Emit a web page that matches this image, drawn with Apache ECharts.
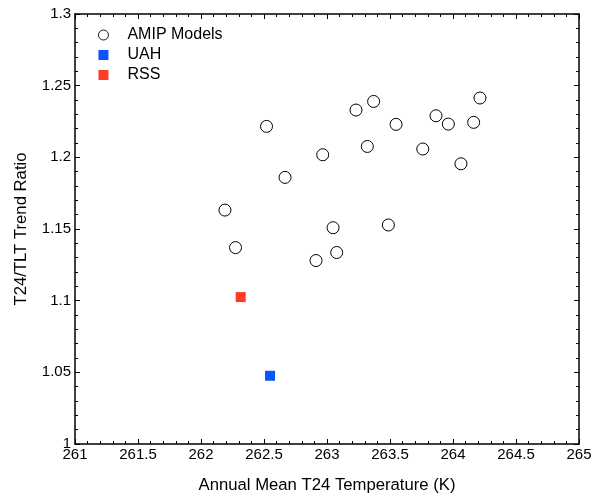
<!DOCTYPE html>
<html>
<head>
<meta charset="utf-8">
<script src="https://cdn.jsdelivr.net/npm/echarts@6/dist/echarts.min.js"></script>
<style>
  html, body { margin: 0; padding: 0; background: #fff; }
  #chart { width: 602px; height: 497px; }
</style>
</head>
<body>
<div id="chart"></div>
<script>
// 数据
const amipX = [262.52, 262.667, 262.19, 262.274, 262.966, 263.23, 263.37, 263.548, 263.32, 263.76,
               263.865, 263.963, 264.063, 264.164, 264.214, 263.048, 263.487, 262.913, 263.077];
const amipY = [1.2216, 1.186, 1.1632, 1.137, 1.2018, 1.233, 1.239, 1.223, 1.2076, 1.2058,
               1.229, 1.2232, 1.1955, 1.2244, 1.2414, 1.1509, 1.1528, 1.128, 1.1336];
const uah = [262.548, 1.0476];
const rss = [262.315, 1.1025];

(function () {
    let myChart = echarts.init(document.getElementById("chart"));
    const font = "Liberation Sans";
    const lineStyle = { color: "#000", width: 1.5 };

    // 坐标轴公共样式
    function axisBase(extra) {
        return Object.assign({
            type: "value",
            axisLine: { show: true, onZero: false, lineStyle: lineStyle },
            axisTick: { show: true, inside: true, length: 5, lineStyle: { color: "#000", width: 1 } },
            minorTick: { show: true, splitNumber: 5, length: 3, lineStyle: { color: "#000", width: 1 } },
            splitLine: { show: false },
            axisLabel: { color: "#000", fontFamily: font, fontSize: 15 }
        }, extra);
    }

    let option = {
        animation: false,
        grid: { left: 75, right: 23, top: 14, bottom: 53, outerBoundsMode: "none" },
        legend: {
            orient: "vertical",
            left: 93,
            top: 22,
            itemWidth: 10,
            itemHeight: 10,
            itemGap: 4,
            textStyle: { color: "#000", fontFamily: font, fontSize: 16, lineHeight: 16, padding: [0, 0, 0, 14] },
            data: [
                { name: "AMIP Models", itemStyle: { borderWidth: 0.9 } },
                "UAH",
                "RSS"
            ]
        },
        xAxis: [
            axisBase({
                min: 261, max: 265, interval: 0.5,
                name: "Annual Mean T24 Temperature (K)",
                nameLocation: "middle",
                nameGap: 33,
                nameTextStyle: { color: "#000", fontFamily: font, fontSize: 16.7 },
                axisLabel: { color: "#000", fontFamily: font, fontSize: 15, margin: 3 }
            }),
            axisBase({
                min: 261, max: 265, interval: 0.5, position: "top",
                axisLabel: { show: false }
            })
        ],
        yAxis: [
            axisBase({
                min: 1, max: 1.3, interval: 0.05,
                name: "T24/TLT Trend Ratio",
                nameLocation: "middle",
                nameGap: 45,
                nameTextStyle: { color: "#000", fontFamily: font, fontSize: 16.7 },
                axisLabel: { color: "#000", fontFamily: font, fontSize: 15, margin: 4 }
            }),
            axisBase({
                min: 1, max: 1.3, interval: 0.05, position: "right",
                axisLabel: { show: false }
            })
        ],
        series: [
            {
                name: "AMIP Models",
                type: "scatter",
                symbol: "circle",
                symbolSize: 12,
                itemStyle: { color: "#fff", borderColor: "#000", borderWidth: 1, opacity: 1 },
                data: amipX.map((x, i) => [x, amipY[i]])
            },
            {
                name: "UAH",
                type: "scatter",
                symbol: "rect",
                symbolSize: 10,
                itemStyle: { color: "#0a55ff", opacity: 1 },
                data: [uah]
            },
            {
                name: "RSS",
                type: "scatter",
                symbol: "rect",
                symbolSize: 10,
                itemStyle: { color: "#ff3b22", opacity: 1 },
                data: [rss]
            }
        ]
    };
    myChart.setOption(option);
})();
</script>
</body>
</html>
